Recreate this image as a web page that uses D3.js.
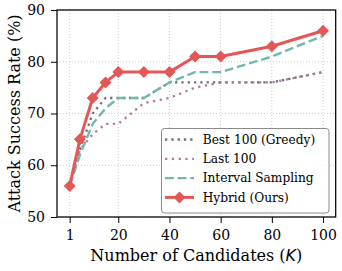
<!DOCTYPE html>
<html>
<head>
<meta charset="utf-8">
<script src="https://cdn.jsdelivr.net/npm/d3@7"></script>
<style>
  html, body { margin: 0; padding: 0; background: #fff; }
  svg { display: block; }
  text { font-family: "DejaVu Serif", serif; fill: #000; }
</style>
</head>
<body>
<svg id="chart" width="342" height="271"></svg>
<script>
const candidates = [1, 5, 10, 15, 20, 30, 40, 50, 60, 80, 100];
const best100 =    [56, 63, 70, 73, 73, 73, 76, 76, 76, 76, 78];
const last100 =    [56, 63, 66, 68, 68, 72, 73, 75, 76, 76, 78];
const interval =   [56, 62, 68, 71, 73, 73, 76, 78, 78, 81, 85];
const hybrid =     [56, 65, 73, 76, 78, 78, 78, 81, 81, 83, 86];
const xTicks = [1, 20, 40, 60, 80, 100];
const yTicks = [50, 60, 70, 80, 90];
const seriesNames = ["Best 100 (Greedy)", "Last 100", "Interval Sampling", "Hybrid (Ours)"];

const series = [
  { name: seriesNames[0], values: best100, color: "#707070", width: 2.3, dash: "2.3,4", marker: false },
  { name: seriesNames[1], values: last100, color: "#b279a2", width: 2.3, dash: "2.3,4.5", marker: false },
  { name: seriesNames[2], values: interval, color: "#72b7b2", width: 2.4, dash: "8.8,3.9", marker: false },
  { name: seriesNames[3], values: hybrid, color: "#e45756", width: 3, dash: null, marker: true }
];

const svg = d3.select("#chart");
const L = 57, R = 335.7, T = 10, B = 217;
const x = d3.scaleLinear().domain([1 - 0.05 * 99, 100 + 0.05 * 99]).range([L, R]);
const y = d3.scaleLinear().domain([50, 90]).range([B, T]);

// grid
const grid = svg.append("g");
grid.selectAll("line.vx").data(xTicks).enter().append("line")
  .attr("x1", d => x(d)).attr("x2", d => x(d)).attr("y1", T).attr("y2", B)
  .attr("stroke", "#cccccc").attr("stroke-width", 1).attr("stroke-dasharray", "1,2");
grid.selectAll("line.hy").data(yTicks).enter().append("line")
  .attr("x1", L).attr("x2", R).attr("y1", d => y(d)).attr("y2", d => y(d))
  .attr("stroke", "#cccccc").attr("stroke-width", 1).attr("stroke-dasharray", "1,2");

// lines
const line = d3.line().x((d, i) => x(candidates[i])).y(d => y(d));
const diamond = d3.symbol().type(d3.symbolSquare).size(72);
series.forEach(s => {
  svg.append("path").datum(s.values)
    .attr("d", line).attr("fill", "none")
    .attr("stroke", s.color).attr("stroke-width", s.width)
    .attr("stroke-dasharray", s.dash)
    .attr("stroke-linejoin", "round");
  if (s.marker) {
    svg.selectAll(null).data(s.values).enter().append("path")
      .attr("d", diamond)
      .attr("transform", (d, i) => `translate(${x(candidates[i])},${y(d)}) rotate(45)`)
      .attr("fill", s.color);
  }
});

// axes
const xAxis = d3.axisBottom(x).tickValues(xTicks).tickSize(6).tickPadding(7);
const yAxis = d3.axisLeft(y).tickValues(yTicks).tickSize(6).tickPadding(6);
const gx = svg.append("g").attr("transform", `translate(0,${B})`).call(xAxis);
const gy = svg.append("g").attr("transform", `translate(${L},0)`).call(yAxis);
[gx, gy].forEach(g => {
  g.select(".domain").remove();
  g.selectAll("line").attr("stroke", "#000").attr("stroke-width", 1);
  g.selectAll("text").style("font-family", "DejaVu Serif").style("font-size", "14px").attr("fill", "#000");
});

// frame
svg.append("rect").attr("x", L).attr("y", T).attr("width", R - L).attr("height", B - T)
  .attr("fill", "none").attr("stroke", "#000").attr("stroke-width", 1.25);

// axis labels
svg.append("text").attr("x", (L + R) / 2).attr("y", 261)
  .attr("text-anchor", "middle").style("font-size", "16px")
  .html('Number of Candidates (<tspan font-family="DejaVu Sans" font-style="italic">K</tspan>)');
svg.append("text").attr("transform", `translate(20,${(T + B) / 2}) rotate(-90)`)
  .attr("text-anchor", "middle").style("font-size", "16px")
  .text("Attack Success Rate (%)");

// legend
const lg = svg.append("g");
lg.append("rect").attr("x", 161.5).attr("y", 128.5).attr("width", 167.5).attr("height", 84.5)
  .attr("rx", 3).attr("fill", "rgba(255,255,255,0.85)").attr("stroke", "#8a8a8a").attr("stroke-width", 1);
const rowY = [139.5, 158.8, 178.1, 197.4];
series.forEach((s, i) => {
  lg.append("line").attr("x1", 165).attr("x2", 194).attr("y1", rowY[i]).attr("y2", rowY[i])
    .attr("stroke", s.color).attr("stroke-width", s.width).attr("stroke-dasharray", s.dash);
  if (s.marker) {
    lg.append("path").attr("d", diamond)
      .attr("transform", `translate(179.5,${rowY[i]}) rotate(45)`).attr("fill", s.color);
  }
  lg.append("text").attr("x", 202.7).attr("y", rowY[i]).attr("dy", "0.35em")
    .style("font-size", "12.2px").text(s.name);
});
</script>
</body>
</html>
